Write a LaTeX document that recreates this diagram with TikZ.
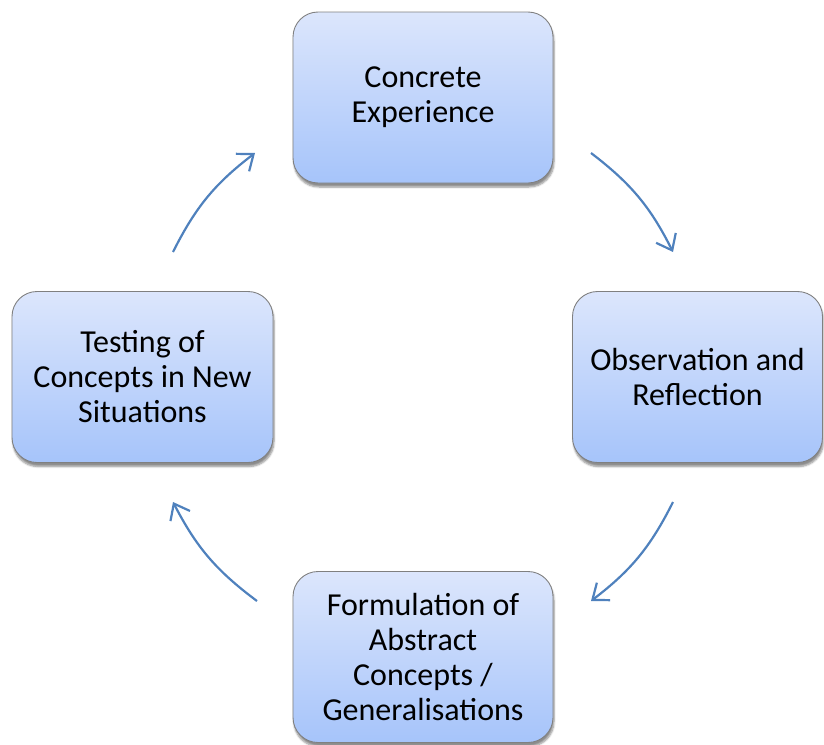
\documentclass[tikz,border=0pt]{standalone}
\usepackage{fontspec}
\setmainfont{Carlito}
\usetikzlibrary{arrows.meta, shadows.blur}

\definecolor{boxtop}{RGB}{220,230,252}
\definecolor{boxbot}{RGB}{166,196,250}
\definecolor{boxline}{RGB}{128,128,128}
\definecolor{cycblue}{RGB}{79,129,189}

\begin{document}
\begin{tikzpicture}[
        box/.style={draw=boxline, line width=0.9pt, rounded corners=25pt, top color=boxtop, bottom color=boxbot,
            minimum width=260pt, minimum height=171pt, align=center, font=\fontsize{32}{35}\selectfont,
            blur shadow={shadow xshift=1pt, shadow yshift=-4pt, shadow blur steps=6, shadow opacity=45}},
        cyc/.style={draw=cycblue, line width=2.2pt, -{Straight Barb[length=14pt, width=22pt]}}]
        \useasboundingbox (0,0) rectangle (824pt,-744pt);

        \node[box] (CE) at (423pt,-97.5pt) {Concrete\\Experience};
        \node[box, minimum width=250pt] (OR) at (697.5pt,-377pt) {Observation and\\Reflection};
        \node[box] (FA) at (423pt,-657pt) {Formulation of\\Abstract\\Concepts /\\Generalisations};
        \node[box, minimum width=261pt] (TC) at (142.5pt,-377pt) {Testing of\\Concepts in New\\Situations};

        % arrow ends round the cycle
        \coordinate (a1) at (591pt,-153pt);
        \coordinate (b1) at (673pt,-252pt);
        \coordinate (a2) at (673pt,-502pt);
        \coordinate (b2) at (591pt,-601pt);
        \coordinate (a3) at (257pt,-601pt);
        \coordinate (b3) at (173pt,-502pt);
        \coordinate (a4) at (173pt,-252pt);
        \coordinate (b4) at (255pt,-153pt);

        \draw[cyc] (a1) to[bend left=13] (b1);
        \draw[cyc] (a2) to[bend left=13] (b2);
        \draw[cyc] (a3) to[bend left=13] (b3);
        \draw[cyc] (a4) to[bend left=13] (b4);
    \end{tikzpicture}
\end{document}
